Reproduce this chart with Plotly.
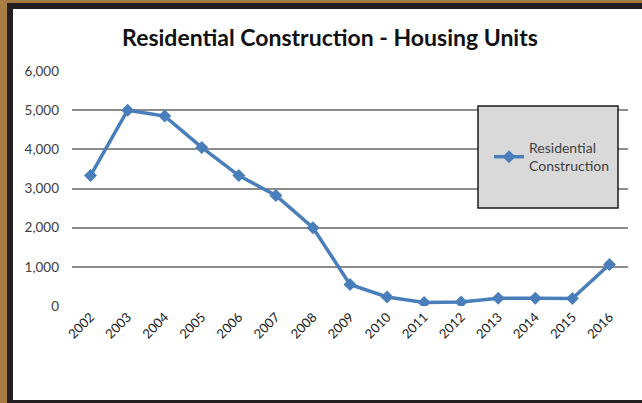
import plotly.graph_objects as go

years = ["2002", "2003", "2004", "2005", "2006", "2007", "2008", "2009",
         "2010", "2011", "2012", "2013", "2014", "2015", "2016"]
units = [3330, 5000, 4850, 4050, 3330, 2820, 2000, 550,
         230, 90, 100, 200, 200, 190, 1060]
y_ticks = [0, 1000, 2000, 3000, 4000, 5000, 6000]
y_labels = ["0", "1,000", "2,000", "3,000", "4,000", "5,000", "6,000"]

W, H = 642, 403
L, R, T, B = 72, 628, 71, 306  # plot area in pixels


def px(x):
    return (x - L) / (R - L)


def py(y):
    return (B - y) / (B - T)


fig = go.Figure()
fig.add_trace(go.Scatter(
    x=years, y=units, mode="lines+markers",
    name="Residential<br>Construction",
    line=dict(color="#4a7ebb", width=3.5),
    marker=dict(symbol="diamond", size=10, color="#4a7ebb"),
))

shapes = [
    # brown frame
    dict(type="rect", xref="paper", yref="paper", x0=px(0), x1=px(7), y0=py(H), y1=py(0),
         fillcolor="#a87b45", line=dict(width=0), layer="below"),
    dict(type="rect", xref="paper", yref="paper", x0=px(0), x1=px(W), y0=py(3), y1=py(0),
         fillcolor="#a87b45", line=dict(width=0), layer="below"),
    # dark inner frame
    dict(type="rect", xref="paper", yref="paper", x0=px(7), x1=px(13), y0=py(H), y1=py(3),
         fillcolor="#231f20", line=dict(width=0), layer="below"),
    dict(type="rect", xref="paper", yref="paper", x0=px(7), x1=px(W), y0=py(9), y1=py(3),
         fillcolor="#231f20", line=dict(width=0), layer="below"),
    dict(type="rect", xref="paper", yref="paper", x0=px(7), x1=px(W), y0=py(H), y1=py(400),
         fillcolor="#231f20", line=dict(width=0), layer="below"),
    # legend box
    dict(type="rect", xref="paper", yref="paper", x0=px(478), x1=px(618), y0=py(208), y1=py(106),
         fillcolor="#d9d9d9", line=dict(color="#1a1a1a", width=1.5), layer="above"),
]

fig.update_layout(
    width=W, height=H,
    margin=dict(l=L, r=W - R, t=T, b=H - B, pad=0),
    paper_bgcolor="white", plot_bgcolor="white",
    font=dict(family="Lato, Open Sans, sans-serif", color="#404040", size=12),
    title=dict(text="<b>Residential Construction - Housing Units</b>",
               x=(330 / W), xanchor="center", y=1 - 38 / H, yanchor="middle",
               font=dict(size=23, color="#111111", family="Lato, Open Sans, sans-serif")),
    showlegend=True,
    legend=dict(x=px(489), y=py(157), xanchor="left", yanchor="middle",
                bgcolor="rgba(0,0,0,0)", borderwidth=0,
                font=dict(size=14, color="#404040"), itemwidth=30),
    shapes=shapes,
    xaxis=dict(type="category", range=[-0.5, 14.5], tickangle=-45,
               showgrid=False, showline=False, zeroline=False, ticks="",
               tickfont=dict(size=13, color="#1a1a1a")),
    yaxis=dict(range=[0, 6000], tickvals=y_ticks, ticktext=y_labels,
               showgrid=True, gridcolor="#8c8c8c", gridwidth=1.5,
               zeroline=False, showline=False, ticks="", ticklabelstandoff=12,
               tickfont=dict(size=13.5, color="#404040")),
)
fig.write_html("out.html", config={"displayModeBar": False},
               post_script="document.body.style.margin='0px';document.body.style.overflow='hidden';")
